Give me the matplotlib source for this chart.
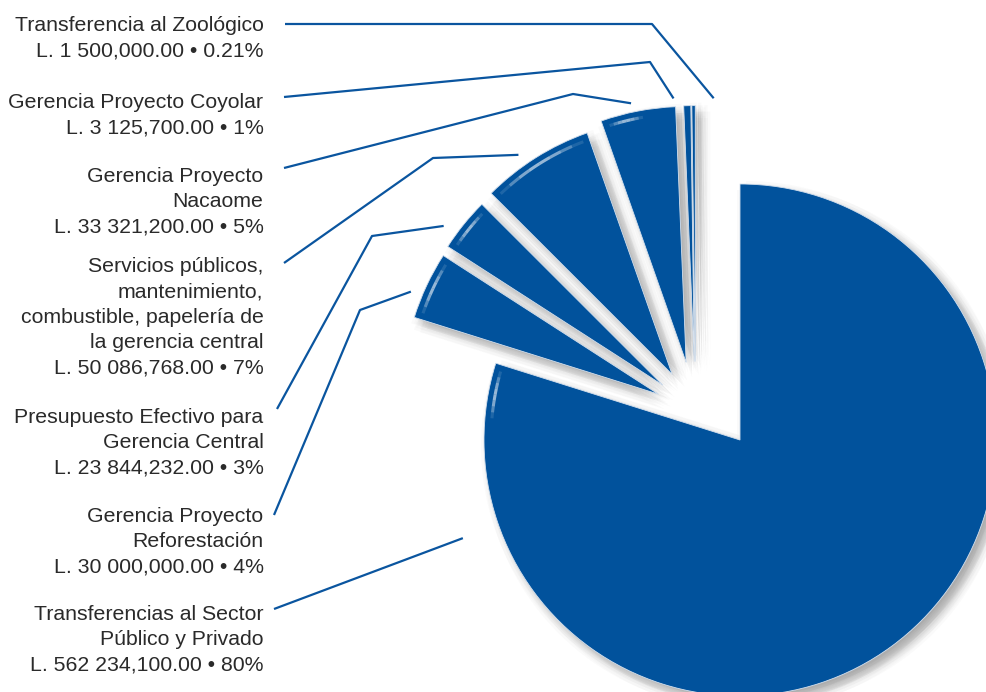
import numpy as np
import matplotlib
matplotlib.use("Agg")
import matplotlib.pyplot as plt
from matplotlib.patches import Arc

# Budget items, listed top to bottom in the order they are labelled
items = [
    "Transferencia al Zoológico",
    "Gerencia Proyecto Coyolar",
    "Gerencia Proyecto\nNacaome",
    "Servicios públicos,\nmantenimiento,\ncombustible, papelería de\nla gerencia central",
    "Presupuesto Efectivo para\nGerencia Central",
    "Gerencia Proyecto\nReforestación",
    "Transferencias al Sector\nPúblico y Privado",
]
amounts = [1500000.00, 3125700.00, 33321200.00, 50086768.00,
           23844232.00, 30000000.00, 562234100.00]
shares = ["0.21%", "1%", "5%", "7%", "3%", "4%", "80%"]

BLUE = "#01529c"
TEXT = "#2a2a2a"
W, H = 987, 692
S = 256.0  # pixels per pie radius


def px(x, y):
    """Pixel position (origin top-left) -> axes data units."""
    return x / S, (H - y) / S


def money(v):
    parts = f"{v:,.2f}".split(",")
    return " ".join(parts[:-1]) + "," + parts[-1] if len(parts) > 1 else parts[0]


fig = plt.figure(figsize=(W / 100, H / 100), dpi=100)
ax = fig.add_axes([0, 0, 1, 1])

# the pie runs clockwise from 12 o'clock, largest item first
pie_vals = amounts[::-1]
n = len(pie_vals)
main_center = px(740, 440)
group_center = px(695.6, 411.6)
flat = [0.0] * n
explode = [0.0] + [v / S for v in (41, 42, 44, 50, 50, 50)]
big_only = [True] + [False] * (n - 1)
small_only = [not b for b in big_only]


def layer(center, expl, show, color, **props):
    wedges, _ = ax.pie(pie_vals, startangle=90, counterclock=False, radius=1.0,
                       center=center, explode=expl, colors=[color] * n,
                       wedgeprops=props)
    for w, s in zip(wedges, show):
        w.set_visible(s)
    return wedges


# soft drop shadow: many faint copies spread around a down-right offset
offsets = [(0.0, 0.0)] + [(r * np.cos(a), r * np.sin(a))
                          for r in (3.0, 6.0, 9.0)
                          for a in np.linspace(0, 2 * np.pi, 8, endpoint=False)]
for dx, dy in offsets:
    sx, sy = (6 + dx) / S, -(6 + dy) / S
    layer((main_center[0] + sx, main_center[1] + sy), flat, big_only, "#505050",
          alpha=0.022, linewidth=0, zorder=1)
    layer((group_center[0] + sx, group_center[1] + sy), explode, small_only, "#505050",
          alpha=0.022, linewidth=0, zorder=1)

big = layer(main_center, flat, big_only, BLUE, edgecolor="#d4e0ee", linewidth=0.6, zorder=2)
small = layer(group_center, explode, small_only, BLUE, edgecolor="#d4e0ee", linewidth=0.6, zorder=2)
wedges = [big[0]] + small[1:]

# glossy highlight just inside the outer rim, on the side facing the light
for w in wedges:
    lo, hi = w.theta1 + 1.5, w.theta2 - 1.5
    for shift in (0, -360):
        a0, a1 = max(lo, 100 + shift), min(hi, 175 + shift)
        if a1 - a0 < 1:
            continue
        edges = np.linspace(a0, a1, 9)
        for k in range(8):
            t = (k + 0.5) / 8
            rr = w.r - 7 / S
            ax.add_patch(Arc(w.center, 2 * rr, 2 * rr, theta1=edges[k], theta2=edges[k + 1],
                             color="white", lw=2.2, alpha=0.6 * np.sin(np.pi * t), zorder=3))

# labels
first_line = [23.8, 100.8, 174.2, 264.5, 415.5, 514.2, 612.5]
pitch = 25.3
for i, name in enumerate(items):
    lines = name.split("\n") + [f"L. {money(amounts[i])} \u2022 {shares[i]}"]
    for j, line in enumerate(lines):
        x, y = px(263.5, first_line[i] + 7.5 + j * pitch)
        ax.text(x, y, line, ha="right", va="baseline", fontsize=15.3,
                family="Liberation Sans", color=TEXT)

# leader lines: from the label, through an elbow, to just outside the wedge rim
starts = [(285, 24), (284, 97), (284, 168), (284, 263), (277, 409), (274, 515), (274, 609)]
elbows = [(652, 24), (650, 62), (573, 94), (433, 158), (372, 236), (360, 310), None]
anchor_angle = [86.0, 94.5, 102.0, 125.0, 144.0, 157.5, 199.5]
anchor_pad = [8, 8, 9, 12, 15, 12, 38]
for i in range(len(items)):
    w = wedges[n - 1 - i]
    a = np.radians(anchor_angle[i])
    rr = w.r + anchor_pad[i] / S
    end = (w.center[0] + rr * np.cos(a), w.center[1] + rr * np.sin(a))
    pts = [px(*starts[i])]
    if elbows[i] is not None:
        pts.append(px(*elbows[i]))
    pts.append(end)
    xs, ys = zip(*pts)
    ax.plot(xs, ys, color="#0a559f", lw=1.6, solid_capstyle="butt", zorder=4)

ax.set_xlim(0, W / S)
ax.set_ylim(0, H / S)
ax.set_aspect("auto")
ax.axis("off")
fig.savefig("out.png", dpi=100, facecolor="white")
